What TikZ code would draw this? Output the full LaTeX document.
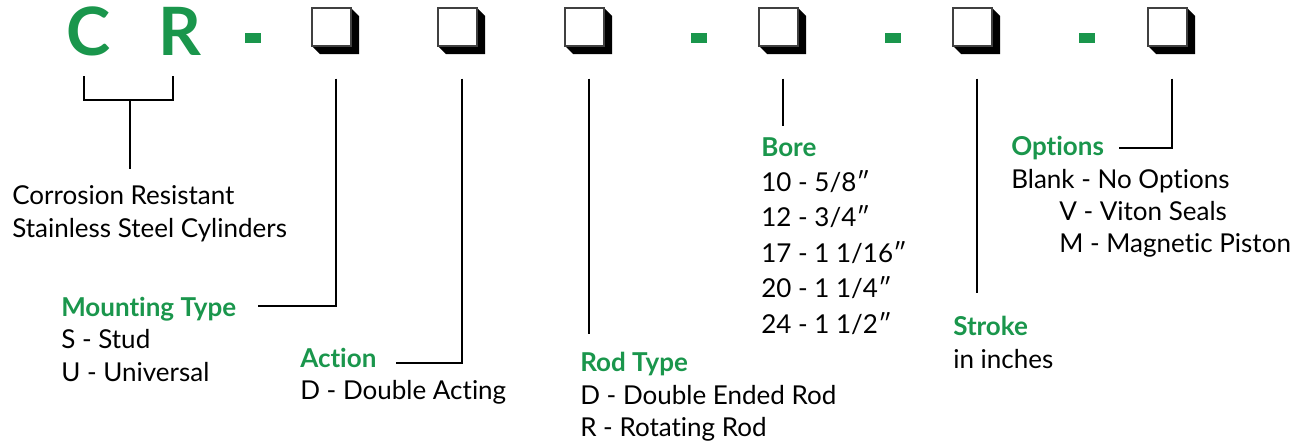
\documentclass[tikz,border=0pt]{standalone}
\usepackage{fontspec}
\setmainfont{Lato}[Ligatures={NoCommon,NoRare}]
\definecolor{cgreen}{RGB}{26,150,76}
\begin{document}
\begin{tikzpicture}[
    x=0.75pt, y=-0.75pt,
    LL/.style={draw=black,line width=1.5pt},
    HD/.style={anchor=base west,inner sep=0pt,text=cgreen,font=\fontsize{19.5}{24}\selectfont\bfseries},
    TX/.style={anchor=base west,inner sep=0pt,font=\fontsize{19.5}{24}\selectfont},
    BIG/.style={anchor=base west,inner sep=0pt,text=cgreen,font=\fontsize{50}{60}\selectfont\bfseries},
    HY/.style={fill=cgreen,inner sep=0pt,minimum width=12pt,minimum height=7.5pt},
    SL/.style={inner sep=0pt,minimum width=35.25pt,minimum height=34.5pt,anchor=north west}
    ]
    \useasboundingbox (0,0) rectangle (1306,444);
    % part number
    \node [BIG] (C) at (66,55) {C};
    \node [BIG] (R) at (158,55) {R};
    \foreach \n/\x in {1/253,2/699,3/893,4/1087}
      \node [HY] (hy\n) at (\x,38) {};
    \foreach \n/\x in {1/312,2/438,3/565,4/759,5/953,6/1148} {
      \fill (\x,46) -- (\x+39,46) -- (\x+39,8) -- (\x+47,16) -- (\x+47,54) -- (\x+8,54) -- cycle;
      \draw [fill=white,draw=gray!50!black,line width=1pt] (\x,8) rectangle (\x+39,46);
      \node [SL] (box\n) at (\x,8) {};
    }
    % labels
    \node [TX] (corr1) at (12,204) {Corrosion Resistant};
    \node [TX] (corr2) at (12,237) {Stainless Steel Cylinders};
    \node [HD] (mount) at (61,316) {Mounting Type};
    \node [TX] (mount1) at (61,348) {S - Stud};
    \node [TX] (mount2) at (61,381) {U - Universal};
    \node [HD] (action) at (300,367) {Action};
    \node [TX] (action1) at (300,399) {D - Double Acting};
    \node [HD] (rod) at (580,371) {Rod Type};
    \node [TX] (rod1) at (580,404) {D - Double Ended Rod};
    \node [TX] (rod2) at (580,436) {R - Rotating Rod};
    \node [HD] (bore) at (761,156) {Bore};
    \foreach \t [count=\i] in {10 - 5/8″,12 - 3/4″,17 - 1 1/16″,20 - 1 1/4″,24 - 1 1/2″}
      \node [TX] (bore\i) at (761,156+35.4*\i) {\t};
    \node [HD] (stroke) at (953,335) {Stroke};
    \node [TX] (stroke1) at (953,368) {in inches};
    \node [HD] (opt) at (1011,155) {Options};
    \node [TX] (opt1) at (1011,188) {Blank - No Options};
    \node [TX] (opt2) at (1059,220) {V - Viton Seals};
    \node [TX] (opt3) at (1059,252) {M - Magnetic Piston};
    % connectors
    \coordinate (brC) at (84,76);
    \coordinate (brR) at (173,76);
    \coordinate (brM) at (130,100);
    \coordinate (corrEnd) at (130,169);
    \coordinate (mountEnd) at (258,306);
    \coordinate (actionEnd) at (396,363);
    \coordinate (rodEnd) at (box3.south |- 0,334);
    \coordinate (boreEnd) at (box4.south |- 0,126);
    \coordinate (strokeEnd) at (box5.south |- 0,293);
    \coordinate (optEnd) at (1119,148);
    \draw [LL] (brC) |- (brM) -| (brR);
    \draw [LL] (brM) -- (corrEnd);
    \draw [LL] ([yshift=-18pt]box1.south) |- (mountEnd);
    \draw [LL] ([yshift=-18pt]box2.south) |- (actionEnd);
    \draw [LL] ([yshift=-18pt]box3.south) -- (rodEnd);
    \draw [LL] ([yshift=-18pt]box4.south) -- (boreEnd);
    \draw [LL] ([yshift=-18pt]box5.south) -- (strokeEnd);
    \draw [LL] ([yshift=-18pt]box6.south) |- (optEnd);
\end{tikzpicture}
\end{document}
